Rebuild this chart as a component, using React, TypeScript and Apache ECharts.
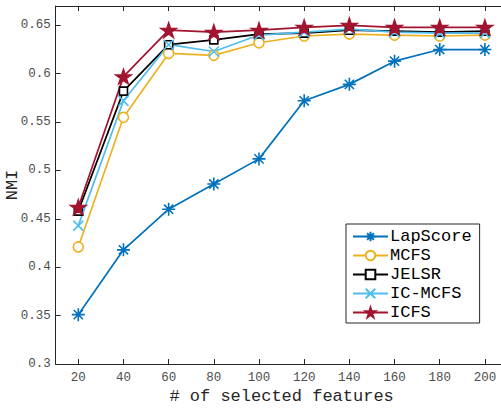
import React, { useEffect, useRef } from "react";
import * as echarts from "echarts";

const xValues = [20, 40, 60, 80, 100, 120, 140, 160, 180, 200];
const xTicks = [20, 40, 60, 80, 100, 120, 140, 160, 180, 200];
const lapScore = [0.351, 0.418, 0.460, 0.486, 0.512, 0.572, 0.589, 0.613, 0.625, 0.625];
const mcfs = [0.421, 0.555, 0.621, 0.619, 0.632, 0.639, 0.641, 0.640, 0.639, 0.640];
const jelsr = [0.458, 0.582, 0.630, 0.635, 0.641, 0.642, 0.645, 0.644, 0.643, 0.644];
const icMcfs = [0.443, 0.572, 0.630, 0.623, 0.640, 0.643, 0.646, 0.643, 0.642, 0.642];
const icfs = [0.462, 0.597, 0.645, 0.643, 0.645, 0.648, 0.650, 0.648, 0.648, 0.648];
const seriesNames = ["LapScore", "MCFS", "JELSR", "IC-MCFS", "ICFS"];

const FONT = "'Liberation Mono', 'DejaVu Sans Mono', monospace";
const ASTERISK = "path://M0,-1L0,1M-1,0L1,0M-0.707,-0.707L0.707,0.707M-0.707,0.707L0.707,-0.707";
const CROSS = "path://M-1,-1L1,1M-1,1L1,-1";
const STAR =
  "path://M0,-1L0.225,-0.309L0.951,-0.309L0.363,0.118L0.588,0.809L0,0.382L-0.588,0.809L-0.363,0.118L-0.951,-0.309L-0.225,-0.309Z";

export default function App() {
  const ref = useRef<HTMLDivElement>(null);
  useEffect(() => {
    if (!ref.current) return;
    const chart = echarts.init(ref.current, undefined, { renderer: "svg" });
    const pair = (arr: number[]) => xValues.map((x, i) => [x, arr[i]]);
    const mk = (
      name: string,
      data: number[],
      color: string,
      symbol: string,
      size: number,
      fill: string
    ) => ({
      name,
      type: "line",
      data: pair(data),
      symbol,
      symbolSize: size,
      symbolKeepAspect: true,
      showAllSymbol: true,
      lineStyle: { color, width: 1.7 },
      itemStyle: { color: fill, borderColor: color, borderWidth: 1.6 },
    });
    chart.setOption({
      animation: false,
      backgroundColor: "#ffffff",
      grid: { left: 55.7, top: 6, right: -6.5, bottom: 44, outerBoundsMode: "none", containLabel: false },
      legend: {
        orient: "vertical",
        left: 346,
        top: 224,
        padding: [3, 8, 1, 6],
        itemWidth: 35,
        itemHeight: 12,
        itemGap: 0,
        backgroundColor: "#ffffff",
        borderColor: "#262626",
        borderWidth: 1,
        textStyle: {
          fontFamily: FONT,
          fontSize: 17,
          lineHeight: 19,
          color: "#000",
          padding: [0, 0, 0, -3],
        },
        data: seriesNames,
      },
      xAxis: [
        {
          type: "value",
          min: 10,
          max: 210,
          name: "# of selected features",
          nameLocation: "middle",
          nameGap: 24,
          nameMoveOverlap: false,
          nameTextStyle: { fontFamily: FONT, fontSize: 17, color: "#262626" },
          axisLine: { lineStyle: { color: "#262626", width: 1 } },
          axisTick: { inside: true, length: 5, customValues: xTicks, lineStyle: { color: "#262626" } },
          axisLabel: {
            fontFamily: FONT,
            fontSize: 12.5,
            color: "#4d4d4d",
            margin: 7,
            customValues: xTicks,
          },
          splitLine: { show: false },
        },
        {
          type: "value",
          position: "top",
          min: 10,
          max: 210,
          axisLine: { lineStyle: { color: "#262626", width: 1 } },
          axisTick: { inside: true, length: 5, customValues: xTicks, lineStyle: { color: "#262626" } },
          axisLabel: { show: false, customValues: xTicks },
          splitLine: { show: false },
        },
      ],
      yAxis: {
        type: "value",
        min: 0.3,
        max: 0.67,
        interval: 0.05,
        name: "NMI",
        nameLocation: "middle",
        nameGap: 35,
        nameMoveOverlap: false,
        nameTextStyle: { fontFamily: FONT, fontSize: 17, color: "#262626" },
        axisLine: { show: true, lineStyle: { color: "#262626", width: 1 } },
        axisTick: { inside: true, length: 5, lineStyle: { color: "#262626" } },
        axisLabel: {
          fontFamily: FONT,
          fontSize: 12.5,
          color: "#4d4d4d",
          margin: 5,
          showMaxLabel: false,
          formatter: (v: number) => {
            const r = Math.round(v * 100) / 100;
            if (Math.abs(r * 20 - Math.round(r * 20)) > 1e-6 || r > 0.651) return "";
            return String(r);
          },
        },
        splitLine: { show: false },
      },
      series: [
        mk("LapScore", lapScore, "#0072BD", ASTERISK, 13, "#0072BD"),
        mk("MCFS", mcfs, "#EDB120", "circle", 10, "#ffffff"),
        mk("JELSR", jelsr, "#000000", "rect", 8, "#ffffff"),
        mk("IC-MCFS", icMcfs, "#4DBEEE", CROSS, 10, "#4DBEEE"),
        mk("ICFS", icfs, "#A2142F", STAR, 15, "#A2142F"),
      ],
    });
    return () => chart.dispose();
  }, []);
  return (
    <div
      ref={ref}
      style={{ position: "fixed", left: 0, top: 0, width: 501, height: 408, background: "#fff" }}
    />
  );
}
